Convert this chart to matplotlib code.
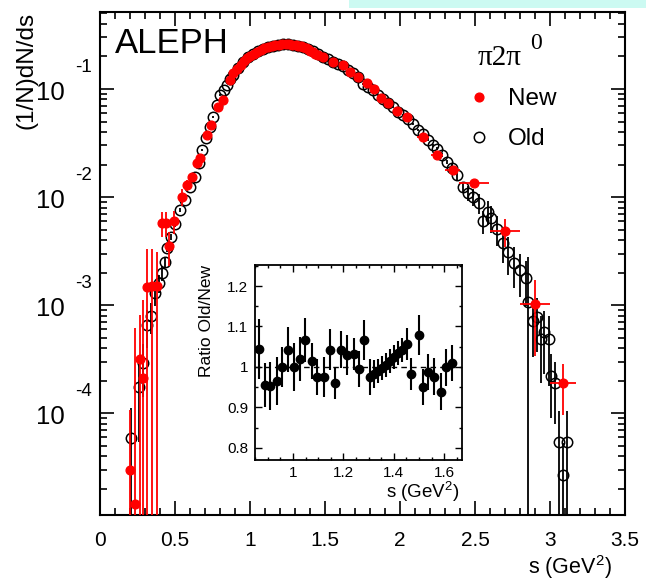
import matplotlib
matplotlib.use("Agg")
import matplotlib.pyplot as plt
from matplotlib.ticker import MultipleLocator, LogLocator, FuncFormatter, NullFormatter
from matplotlib.lines import Line2D
from matplotlib.patches import Rectangle
from matplotlib.transforms import blended_transform_factory, offset_copy
import numpy as np

plt.rcParams['font.family'] = ['Liberation Sans', 'DejaVu Sans']
plt.rcParams['mathtext.fontset'] = 'custom'
plt.rcParams['mathtext.rm'] = 'Liberation Sans'
plt.rcParams['mathtext.it'] = 'Liberation Sans:italic'
plt.rcParams['mathtext.default'] = 'regular'

# old pi 2pi0 spectral function (open circles)
old_s = [0.207, 0.260, 0.287, 0.313, 0.340, 0.367, 0.393, 0.413, 0.433, 0.447,
         0.473, 0.500, 0.533, 0.567, 0.600, 0.633, 0.660, 0.680, 0.707, 0.733,
         0.753, 0.780, 0.800, 0.827, 0.847, 0.867, 0.887, 0.920, 0.953, 0.987,
         1.020, 1.053, 1.087, 1.120, 1.153, 1.187, 1.220, 1.253, 1.287, 1.320,
         1.353, 1.387, 1.420, 1.453, 1.487, 1.520, 1.553, 1.587, 1.620, 1.653,
         1.687, 1.720, 1.753, 1.787, 1.820, 1.853, 1.887, 1.920, 1.953, 1.987,
         2.020, 2.053, 2.087, 2.120, 2.153, 2.187, 2.220, 2.247, 2.280, 2.313,
         2.347, 2.380, 2.420, 2.453, 2.487, 2.527, 2.553, 2.587, 2.607, 2.647,
         2.687, 2.720, 2.760, 2.800, 2.840, 2.853, 2.887, 2.913, 2.940, 2.960,
         2.993, 3.007, 3.033, 3.060, 3.087, 3.113]
old_v = [5.9e-5, 1.74e-4, 2.9e-4, 6.5e-4, 7.9e-4, 1.29e-3, 1.6e-3, 1.98e-3, 2.5e-3, 3.37e-3,
         4.27e-3, 5.62e-3, 7.6e-3, 9.4e-3, 1.24e-2, 1.53e-2, 2.07e-2, 2.72e-2, 3.52e-2, 4.45e-2,
         5.5e-2, 7.1e-2, 8.8e-2, 9.8e-2, 0.109, 0.124, 0.135, 0.156, 0.178, 0.198,
         0.211, 0.225, 0.234, 0.245, 0.250, 0.255, 0.261, 0.261, 0.255, 0.250,
         0.245, 0.234, 0.225, 0.211, 0.198, 0.190, 0.178, 0.170, 0.163, 0.150,
         0.141, 0.129, 0.111, 0.104, 0.098, 0.088, 0.081, 0.074, 0.068, 0.061,
         0.057, 0.053, 0.047, 0.042, 0.038, 0.034, 0.030, 0.028, 0.0245, 0.0211,
         0.0186, 0.0160, 0.0124, 0.0109, 0.0100, 0.0088, 0.0060, 0.0073, 0.0064, 0.0051,
         0.00375, 0.0031, 0.00245, 0.0021, 0.00178, 0.00107, 7.1e-4, 7.7e-4, 4.9e-4, 5.6e-4,
         4.9e-4, 2.2e-4, 1.9e-4, 5.4e-5, 2.7e-5, 5.4e-5]
old_err = [5.3e-5, 1.2e-4, 1.5e-4, 2.5e-4, 2.5e-4, 3e-4, 3e-4, 3e-4, 3e-4, 3e-4,
           3e-4, 3e-4, 3e-4, 3e-4, 4e-4, 4e-4, 5e-4, 6e-4, 7e-4, 8e-4,
           1e-3, 1e-3, 1e-3, 1e-3, 1e-3, 1e-3, 1e-3, 1e-3, 1e-3, 1e-3,
           2e-3, 2e-3, 2e-3, 2e-3, 2e-3, 2e-3, 2e-3, 2e-3, 2e-3, 2e-3,
           2e-3, 2e-3, 2e-3, 2e-3, 2e-3, 2e-3, 2e-3, 2e-3, 2e-3, 2e-3,
           2e-3, 2e-3, 2e-3, 2e-3, 2e-3, 1.5e-3, 1.5e-3, 1.5e-3, 1.5e-3, 1.5e-3,
           1.2e-3, 1.2e-3, 1e-3, 1e-3, 1e-3, 1e-3, 9e-4, 9e-4, 9e-4, 9e-4,
           1.5e-3, 1.5e-3, 1.5e-3, 1.8e-3, 1.8e-3, 1.8e-3, 1.5e-3, 1.8e-3, 1.8e-3, 1.6e-3,
           1.3e-3, 1.2e-3, 1.0e-3, 9e-4, 8e-4, 1.7e-3, 3.8e-4, 4e-4, 3e-4, 3.3e-4,
           3.1e-4, 1.3e-4, 1.1e-4, 5e-5, 2.6e-5, 5e-5]

# new pi 2pi0 spectral function (red dots)
new_s = [0.200, 0.233, 0.267, 0.287, 0.313, 0.347, 0.380, 0.413, 0.440, 0.460,
         0.493, 0.547, 0.580, 0.613, 0.647, 0.667, 0.713, 0.740, 0.787, 0.820,
         0.864, 0.887, 0.910, 0.937, 0.957, 0.979, 1.003, 1.026, 1.049, 1.075,
         1.095, 1.121, 1.145, 1.167, 1.190, 1.213, 1.240, 1.262, 1.282, 1.306,
         1.322, 1.338, 1.354, 1.370, 1.386, 1.402, 1.418, 1.434, 1.452,
         1.487, 1.553, 1.620, 1.667, 1.720, 1.780, 1.827, 1.873, 1.920, 1.980,
         2.047, 2.153, 2.247, 2.353, 2.493, 2.700, 2.900, 3.087]
new_v = [3.0e-5, 1.44e-5, 3.16e-4, 2.11e-4, 1.47e-3, 1.50e-3, 1.50e-3, 5.74e-3, 5.74e-3, 3.52e-3,
         6.0e-3, 1.0e-2, 1.29e-2, 1.53e-2, 2.07e-2, 2.30e-2, 3.75e-2, 4.64e-2, 6.8e-2, 7.9e-2,
         0.122, 0.140, 0.152, 0.168, 0.180, 0.192, 0.204, 0.212, 0.220, 0.230,
         0.238, 0.244, 0.248, 0.254, 0.256, 0.259, 0.260, 0.259, 0.256, 0.254,
         0.251, 0.248, 0.243, 0.238, 0.232, 0.226, 0.219, 0.212, 0.205,
         0.196, 0.178, 0.165, 0.144, 0.129, 0.114, 0.100, 0.083, 0.074, 0.0625,
         0.055, 0.036, 0.0245, 0.0178, 0.0135, 4.84e-3, 1.02e-3, 1.9e-4]
new_err = [7.7e-5, 6e-4, 5e-4, 9e-4, 1.8e-3, 1.8e-3, 1.6e-3, 1.5e-3, 1.5e-3, 1.2e-3,
           1.5e-3, 1.8e-3, 1.5e-3, 1.2e-3, 1.2e-3, 1.2e-3, 1.5e-3, 1.5e-3, 2e-3, 2e-3,
           3e-3, 3e-3, 3e-3, 3e-3, 3e-3, 3e-3, 3e-3, 3e-3, 3e-3, 3e-3,
           3e-3, 3e-3, 3e-3, 3e-3, 3e-3, 3e-3, 3e-3, 3e-3, 3e-3, 3e-3,
           3e-3, 3e-3, 3e-3, 3e-3, 3e-3, 3e-3, 3e-3, 3e-3, 3e-3,
           4e-3, 4e-3, 4e-3, 3e-3, 3e-3, 3e-3, 3e-3, 2e-3, 2e-3, 2e-3,
           2e-3, 1.5e-3, 1e-3, 8e-4, 8e-4, 1.4e-3, 6.8e-4, 9.4e-5]
new_xerr = [0] * 20 + [0] * 29 + [0, 0, 0, 0.02, 0.02, 0.02, 0.02, 0.025, 0.025, 0.03,
                                  0.03, 0.04, 0.04, 0.05, 0.1, 0.097, 0.097, 0.087]

# ratio old/new (inset)
rat_s = [0.864, 0.887, 0.910, 0.937, 0.957, 0.979, 1.003, 1.026, 1.049, 1.075,
         1.095, 1.121, 1.145, 1.167, 1.190, 1.213, 1.240, 1.262, 1.282, 1.306,
         1.322, 1.338, 1.354, 1.370, 1.386, 1.402, 1.418, 1.434, 1.452, 1.467,
         1.500, 1.515, 1.537, 1.560, 1.585, 1.605, 1.632]
rat_v = [1.044, 0.955, 0.953, 0.965, 1.000, 1.043, 1.000, 1.020, 1.067, 1.014,
         0.975, 0.975, 1.043, 0.960, 1.043, 1.030, 1.032, 0.995, 1.067, 0.975,
         0.983, 0.990, 0.998, 1.005, 1.015, 1.025, 1.034, 1.042, 1.057, 0.983,
         1.079, 0.951, 0.987, 0.976, 0.939, 0.999, 1.010]
rat_err = [0.075, 0.055, 0.06, 0.06, 0.05, 0.055, 0.06, 0.055, 0.055, 0.045,
           0.045, 0.05, 0.05, 0.04, 0.045, 0.05, 0.04, 0.045, 0.05, 0.045,
           0.035, 0.03, 0.03, 0.03, 0.03, 0.03, 0.03, 0.03, 0.04, 0.04,
           0.05, 0.045, 0.045, 0.045, 0.045, 0.045, 0.045]

decades = [-4, -3, -2, -1]

gfmt = FuncFormatter(lambda v, p: '%g' % round(v, 3))

fig = plt.figure(figsize=(6.46, 5.82), dpi=100)
fig.patches.append(Rectangle((0.54, 0.986), 0.46, 0.014, transform=fig.transFigure,
                             facecolor='#ccfaf2', edgecolor='none'))

ax = fig.add_axes([0.1548, 0.1151, 0.8127, 0.8643])
ax.set_yscale('log', nonpositive='clip')
ax.errorbar(old_s, old_v, yerr=old_err, fmt='o', ms=7.5, mfc='none', mec='black', mew=1.1,
            ecolor='black', elinewidth=1.3, capsize=0, zorder=2)
ax.errorbar(new_s, new_v, xerr=new_xerr, yerr=new_err, fmt='o', ms=6.3, color='red',
            elinewidth=1.3, capsize=0, zorder=3)
ax.set_xlim(0, 3.5)
ax.set_ylim(1.14e-5, 0.516)

ax.xaxis.set_major_locator(MultipleLocator(0.5))
ax.xaxis.set_minor_locator(MultipleLocator(0.1))
ax.xaxis.set_major_formatter(gfmt)
ax.yaxis.set_major_locator(LogLocator(base=10, numticks=10))
ax.yaxis.set_minor_locator(LogLocator(base=10, subs=np.arange(2, 10), numticks=20))
ax.yaxis.set_minor_formatter(NullFormatter())
ax.yaxis.set_major_formatter(NullFormatter())
ax.tick_params(which='both', direction='in', top=True, right=True, width=1.2, labelsize=15)
ax.tick_params(which='major', length=10)
ax.tick_params(which='minor', length=5)
ax.tick_params(axis='x', pad=11.5)
for sp in ax.spines.values():
    sp.set_linewidth(1.5)

# ROOT style decade labels: "10" with a raised exponent
ytr = blended_transform_factory(ax.transAxes, ax.transData)
base_tr = offset_copy(ytr, fig=fig, x=0, y=-8, units='points')
exp_tr = offset_copy(ytr, fig=fig, x=0, y=12, units='points')
for k in decades:
    ax.text(-0.0667, 10.0 ** k, '10', transform=base_tr, fontsize=18.5,
            ha='right', va='baseline', clip_on=False)
    ax.text(-0.016, 10.0 ** k, '-%d' % -k, transform=exp_tr, fontsize=13.5,
            ha='right', va='baseline', clip_on=False)

ax.set_ylabel('(1/N)dN/ds', fontsize=17.5, loc='top')
ax.yaxis.set_label_coords(-0.12, 1.0)
ax.set_xlabel('s (GeV$^2$)', fontsize=15.5, loc='right')
ax.xaxis.set_label_coords(0.975, -0.075)

ax.text(0.0286, 0.9185, 'ALEPH', transform=ax.transAxes, fontsize=25, va='baseline')
ax.text(0.72, 0.894, 'π2π', transform=ax.transAxes, fontsize=21,
        family=['Liberation Serif', 'DejaVu Serif'], va='baseline')
ax.text(0.819, 0.926, '0', transform=ax.transAxes, fontsize=17,
        family=['Liberation Serif', 'DejaVu Serif'], va='baseline')

handles = [Line2D([], [], marker='o', ls='none', color='red', ms=6.3),
           Line2D([], [], marker='o', ls='none', mfc='none', mec='black', mew=1.1, ms=7.5)]
ax.legend(handles, ['New', 'Old'], loc='upper left', bbox_to_anchor=(0.7229, 0.8488),
          bbox_transform=fig.transFigure, frameon=False, fontsize=17.5, borderpad=0,
          borderaxespad=0, handlelength=1.0, handletextpad=0.7, labelspacing=0.75)

# inset with the ratio
axi = fig.add_axes([0.3947, 0.2096, 0.3204, 0.3351])
axi.axhline(1.0, ls=(0, (4, 3)), color='black', lw=1.0, zorder=1)
axi.errorbar(rat_s, rat_v, yerr=rat_err, fmt='o', color='black', ms=6, elinewidth=1.5,
             capsize=0, zorder=2)
axi.set_xlim(0.849, 1.67)
axi.set_ylim(0.77, 1.252)
axi.xaxis.set_major_locator(MultipleLocator(0.2))
axi.xaxis.set_minor_locator(MultipleLocator(0.05))
axi.yaxis.set_major_locator(MultipleLocator(0.1))
axi.yaxis.set_minor_locator(MultipleLocator(0.05))
axi.xaxis.set_major_formatter(gfmt)
axi.yaxis.set_major_formatter(gfmt)
axi.tick_params(which='both', direction='in', top=True, right=True, width=1.0, labelsize=11)
axi.tick_params(which='major', length=5)
axi.tick_params(which='minor', length=2.5)
axi.tick_params(axis='x', pad=4.5)
axi.tick_params(axis='y', pad=5)
for sp in axi.spines.values():
    sp.set_linewidth(1.3)
axi.set_ylabel('Ratio Old/New', fontsize=12.5, loc='top')
axi.yaxis.set_label_coords(-0.2, 1.0)
axi.set_xlabel('s (GeV$^2$)', fontsize=13.5, loc='right')
axi.xaxis.set_label_coords(0.99, -0.1)

fig.savefig('out.png', dpi=100)
